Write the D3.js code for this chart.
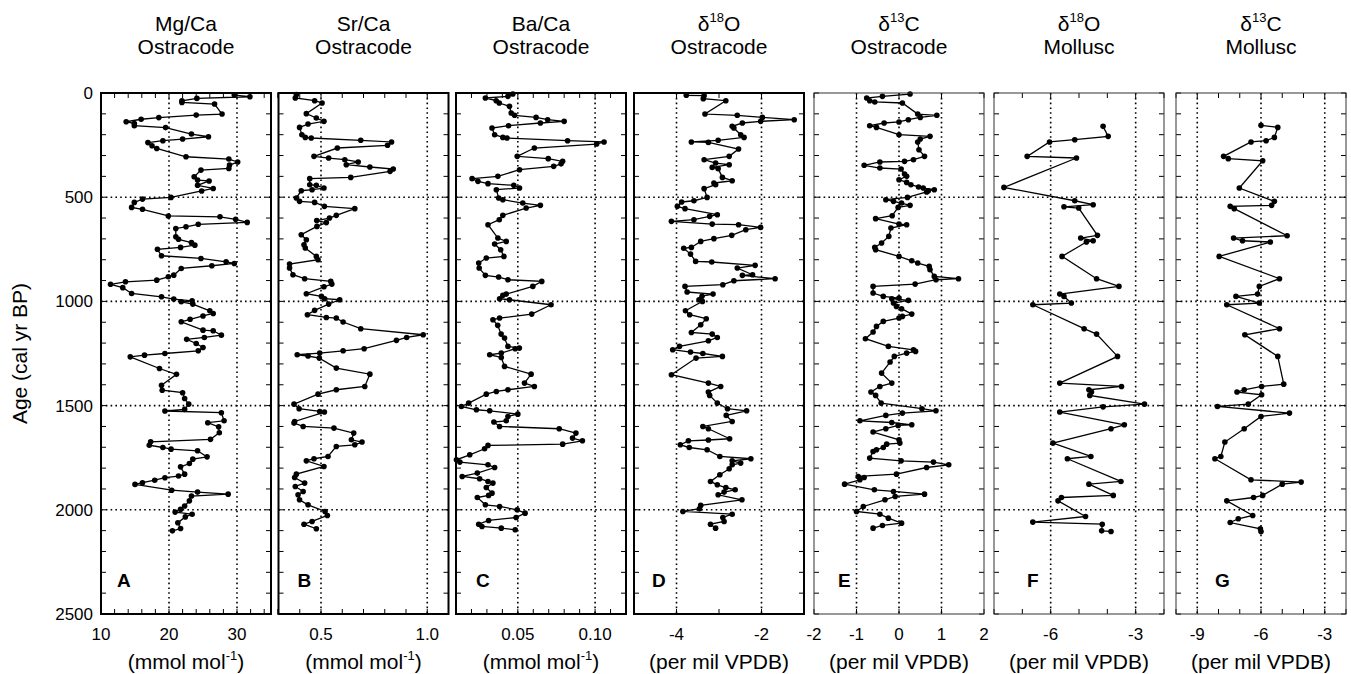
<!DOCTYPE html>
<html>
<head>
<meta charset="utf-8">
<script src="https://cdn.jsdelivr.net/npm/d3@7"></script>
<style>
  body { margin: 0; background: #fff; }
  svg { font-family: "Liberation Sans", Arial, sans-serif; }
</style>
</head>
<body>
<svg width="1351" height="674"></svg>
<script>
// [age (cal yr BP), value]
const mgCa = [[10,29.6],[18,31.9],[26,24.1],[38,21.9],[45,21.9],[53,26.7],[101,27.8],[106,24.0],[118,18.5],[126,15.9],[138,13.7],[146,14.9],[157,14.9],[166,19.5],[197,23.3],[210,25.8],[221,22.0],[229,19.1],[238,16.9],[253,17.5],[266,18.2],[306,22.5],[317,28.8],[331,30.1],[346,28.9],[362,28.8],[370,24.7],[402,23.7],[418,24.2],[422,25.9],[443,24.2],[458,26.5],[470,24.8],[501,20.3],[509,16.1],[525,14.9],[549,14.5],[558,16.1],[590,19.9],[594,27.5],[606,29.8],[621,31.5],[630,24.3],[642,22.5],[650,21.0],[690,21.0],[702,21.4],[718,23.3],[730,23.8],[741,21.7],[750,18.3],[781,18.9],[794,24.7],[810,28.4],[818,29.6],[829,26.3],[842,21.8],[874,20.7],[882,19.9],[898,18.2],[906,13.6],[918,11.4],[934,13.2],[962,14.5],[978,18.9],[989,20.7],[997,23.4],[1002,21.8],[1013,23.5],[1045,26.0],[1058,26.5],[1070,25.0],[1086,23.1],[1098,21.8],[1138,25.0],[1141,26.5],[1162,27.7],[1173,25.2],[1182,22.6],[1202,24.0],[1221,25.0],[1237,24.3],[1250,19.4],[1258,16.4],[1266,14.3],[1322,18.6],[1350,21.1],[1402,18.9],[1426,19.0],[1438,22.0],[1466,22.3],[1493,22.9],[1518,22.3],[1526,19.4],[1534,27.7],[1573,28.1],[1582,25.7],[1602,27.3],[1630,27.4],[1662,26.1],[1674,17.3],[1690,17.1],[1701,19.1],[1709,20.3],[1717,24.2],[1746,25.6],[1757,23.5],[1778,23.0],[1794,21.7],[1829,22.3],[1838,21.4],[1846,19.4],[1858,17.9],[1870,16.1],[1878,15.0],[1906,20.4],[1915,24.2],[1925,28.7],[1934,23.3],[1957,23.0],[1982,22.3],[1998,21.7],[2011,20.9],[2021,23.4],[2034,22.4],[2062,21.3],[2090,21.7],[2101,20.5]];

const srCa = [[8,0.384],[24,0.379],[37,0.470],[48,0.505],[99,0.431],[120,0.478],[136,0.514],[149,0.439],[165,0.399],[200,0.410],[213,0.426],[216,0.454],[227,0.687],[235,0.832],[251,0.813],[264,0.577],[304,0.467],[312,0.536],[320,0.612],[331,0.675],[344,0.619],[355,0.730],[365,0.840],[376,0.825],[405,0.640],[411,0.447],[440,0.447],[443,0.478],[456,0.514],[464,0.458],[469,0.407],[504,0.384],[520,0.399],[525,0.470],[544,0.516],[555,0.659],[587,0.572],[600,0.540],[612,0.480],[622,0.525],[640,0.481],[680,0.407],[704,0.431],[728,0.420],[744,0.426],[784,0.478],[800,0.486],[821,0.352],[840,0.352],[872,0.368],[891,0.423],[904,0.546],[917,0.551],[930,0.514],[963,0.431],[976,0.502],[987,0.517],[992,0.588],[1013,0.536],[1043,0.470],[1064,0.436],[1077,0.525],[1080,0.572],[1099,0.604],[1131,0.687],[1160,0.981],[1173,0.903],[1187,0.855],[1227,0.703],[1237,0.604],[1248,0.494],[1256,0.388],[1262,0.439],[1272,0.492],[1320,0.572],[1349,0.730],[1408,0.706],[1424,0.572],[1445,0.486],[1493,0.373],[1515,0.397],[1528,0.494],[1531,0.516],[1576,0.376],[1584,0.373],[1600,0.416],[1608,0.561],[1632,0.654],[1664,0.643],[1675,0.693],[1688,0.659],[1696,0.572],[1744,0.533],[1755,0.467],[1765,0.431],[1792,0.514],[1829,0.384],[1845,0.376],[1872,0.423],[1888,0.379],[1912,0.416],[1928,0.392],[1952,0.399],[1976,0.439],[2008,0.519],[2027,0.530],[2056,0.458],[2069,0.420],[2091,0.478]];

const baCa = [[5,0.0468],[16,0.0436],[24,0.029],[37,0.036],[48,0.038],[64,0.0446],[96,0.0457],[107,0.0479],[117,0.0618],[128,0.0693],[136,0.080],[144,0.0646],[157,0.044],[168,0.0333],[200,0.035],[213,0.0403],[216,0.043],[229,0.0822],[235,0.1058],[245,0.101],[264,0.0607],[304,0.0496],[315,0.0697],[328,0.079],[340,0.078],[352,0.0732],[368,0.0511],[400,0.0371],[411,0.0204],[424,0.0242],[435,0.0307],[443,0.0474],[456,0.0511],[464,0.0361],[504,0.0376],[512,0.0403],[528,0.0532],[539,0.0646],[552,0.0554],[587,0.0403],[608,0.038],[632,0.0307],[696,0.0371],[712,0.0425],[725,0.035],[752,0.0389],[784,0.041],[792,0.0296],[816,0.0247],[840,0.025],[875,0.029],[883,0.0376],[896,0.0436],[904,0.0655],[928,0.0597],[965,0.0425],[971,0.0403],[987,0.0382],[992,0.0446],[1016,0.0715],[1061,0.059],[1080,0.0382],[1088,0.0339],[1115,0.037],[1157,0.0392],[1176,0.0414],[1216,0.0436],[1224,0.051],[1227,0.0483],[1248,0.0393],[1256,0.0318],[1269,0.0393],[1312,0.0414],[1349,0.0586],[1392,0.0543],[1408,0.0607],[1424,0.0436],[1432,0.0361],[1445,0.0296],[1488,0.0182],[1504,0.0135],[1520,0.0232],[1525,0.0318],[1541,0.05],[1552,0.0436],[1573,0.0425],[1579,0.0345],[1600,0.0382],[1611,0.0768],[1632,0.0876],[1656,0.0854],[1669,0.0918],[1685,0.079],[1691,0.0307],[1707,0.0285],[1736,0.0189],[1760,0.0103],[1771,0.0125],[1784,0.0307],[1797,0.035],[1824,0.0238],[1840,0.014],[1851,0.0253],[1864,0.0307],[1872,0.0339],[1893,0.0296],[1920,0.0333],[1931,0.0311],[1941,0.0238],[1976,0.029],[1984,0.0382],[2000,0.0496],[2016,0.0547],[2037,0.0489],[2051,0.0311],[2069,0.0247],[2080,0.0268],[2088,0.0393],[2096,0.0483]];

const d18OOst = [[11,-3.77],[13,-3.35],[27,-3.37],[37,-2.84],[101,-3.33],[107,-2.57],[117,-1.98],[128,-1.23],[136,-2.02],[144,-2.45],[160,-2.69],[168,-2.65],[200,-2.49],[213,-2.41],[227,-3.02],[235,-3.65],[237,-3.25],[269,-2.54],[304,-2.76],[320,-3.35],[336,-3.08],[344,-2.76],[357,-3.16],[363,-3.02],[405,-2.92],[421,-2.69],[432,-3.12],[440,-3.08],[459,-3.35],[501,-3.28],[517,-3.59],[523,-3.88],[544,-3.98],[555,-3.80],[584,-3.04],[592,-3.22],[608,-3.59],[616,-4.12],[629,-3.16],[632,-2.54],[645,-2.02],[656,-2.37],[683,-2.70],[699,-3.12],[712,-3.43],[741,-3.65],[745,-3.83],[773,-3.67],[808,-3.55],[811,-3.17],[827,-2.15],[840,-2.57],[872,-2.21],[875,-2.45],[891,-1.68],[901,-2.65],[920,-2.91],[928,-3.80],[955,-3.75],[965,-3.14],[975,-3.40],[992,-3.47],[1000,-3.39],[1045,-3.79],[1064,-3.69],[1083,-3.30],[1112,-3.43],[1149,-3.65],[1157,-3.16],[1173,-3.04],[1189,-3.25],[1216,-3.93],[1232,-4.09],[1243,-3.67],[1250,-3.38],[1264,-2.92],[1272,-3.54],[1352,-4.12],[1392,-3.25],[1408,-2.96],[1435,-3.25],[1451,-3.22],[1488,-3.04],[1515,-2.80],[1525,-2.35],[1547,-2.83],[1576,-2.69],[1600,-3.38],[1611,-3.25],[1659,-2.75],[1665,-3.25],[1669,-3.72],[1688,-3.91],[1701,-3.70],[1712,-3.28],[1744,-2.98],[1755,-2.25],[1765,-2.69],[1776,-2.49],[1784,-2.69],[1803,-2.76],[1832,-2.98],[1864,-3.20],[1880,-3.04],[1893,-2.84],[1904,-2.62],[1915,-2.88],[1928,-3.02],[1952,-2.46],[1979,-3.43],[1995,-3.46],[2008,-3.85],[2021,-2.69],[2037,-2.91],[2056,-2.88],[2069,-3.20],[2088,-3.08]];

const d13COst = [[5,0.26],[16,-0.39],[24,-0.76],[37,-0.69],[43,-0.57],[48,0.08],[101,0.44],[107,0.89],[117,0.50],[128,0.22],[139,0.0],[144,-0.35],[157,-0.69],[165,-0.53],[200,0.0],[208,0.73],[221,0.50],[235,0.44],[272,0.47],[304,0.60],[320,0.34],[328,0.13],[331,-0.45],[347,-0.82],[360,-0.45],[365,0.05],[389,0.13],[400,0.18],[416,0.0],[429,0.18],[440,0.28],[451,0.46],[456,0.57],[464,0.83],[469,0.69],[475,0.65],[501,0.20],[512,-0.31],[520,-0.13],[528,0.06],[539,0.26],[549,-0.02],[589,-0.16],[603,-0.55],[629,0.0],[632,0.18],[648,-0.19],[688,-0.24],[720,-0.41],[741,-0.57],[752,-0.55],[784,0.0],[805,0.30],[816,0.44],[832,0.71],[848,0.73],[880,0.83],[891,1.40],[896,0.87],[917,0.38],[928,-0.61],[960,-0.61],[976,-0.37],[984,0.0],[987,-0.17],[995,0.22],[1008,-0.13],[1024,-0.06],[1035,0.06],[1061,0.30],[1072,0.08],[1080,0.0],[1096,-0.37],[1120,-0.53],[1147,-0.61],[1179,-0.79],[1216,-0.25],[1232,0.34],[1240,0.39],[1248,0.18],[1264,-0.11],[1291,-0.21],[1344,-0.41],[1392,-0.17],[1408,-0.45],[1435,-0.66],[1451,-0.55],[1488,-0.42],[1515,0.54],[1525,0.87],[1536,0.08],[1547,-0.31],[1573,-0.92],[1581,-0.17],[1592,0.30],[1595,-0.02],[1611,-0.31],[1627,-0.61],[1664,0.0],[1680,0.02],[1685,-0.29],[1701,-0.37],[1712,-0.53],[1720,-0.61],[1752,-0.69],[1765,0.05],[1771,0.81],[1784,1.17],[1797,0.65],[1829,-0.06],[1840,-0.96],[1845,-0.82],[1856,-0.92],[1877,-1.28],[1904,-0.58],[1912,-0.13],[1925,0.60],[1936,-0.09],[1952,-0.33],[1984,-0.84],[2008,-1.00],[2021,-0.45],[2040,-0.25],[2064,0.06],[2075,-0.39],[2088,-0.61]];

const d18OMol = [[160,-4.15],[208,-3.97],[224,-5.15],[235,-6.04],[304,-6.83],[312,-5.09],[453,-7.65],[517,-5.15],[536,-4.50],[546,-5.53],[552,-5.01],[683,-4.35],[696,-4.94],[709,-4.50],[715,-4.74],[784,-5.60],[891,-4.38],[928,-3.59],[965,-5.68],[976,-5.53],[1008,-5.27],[1016,-6.63],[1131,-4.82],[1157,-4.38],[1264,-3.64],[1392,-5.68],[1408,-3.50],[1424,-4.65],[1435,-4.56],[1451,-4.62],[1493,-2.69],[1506,-4.15],[1531,-5.68],[1592,-3.40],[1611,-3.87],[1680,-5.92],[1744,-4.58],[1755,-5.41],[1864,-3.52],[1877,-4.65],[1931,-3.79],[1941,-5.62],[1957,-5.74],[2032,-4.77],[2059,-6.63],[2069,-4.18],[2101,-4.20],[2104,-3.87]];

const d13CMol = [[155,-6.0],[165,-5.21],[213,-5.37],[229,-5.76],[235,-6.47],[304,-7.76],[315,-7.54],[325,-5.92],[456,-7.02],[520,-5.37],[539,-5.50],[544,-7.45],[555,-7.26],[685,-4.77],[696,-7.29],[709,-6.87],[715,-5.56],[784,-7.97],[891,-5.13],[928,-6.08],[965,-6.16],[976,-7.18],[1008,-6.08],[1016,-7.61],[1131,-5.13],[1160,-6.76],[1264,-5.21],[1397,-4.93],[1408,-5.97],[1424,-6.79],[1435,-7.13],[1448,-5.97],[1493,-6.60],[1504,-8.05],[1536,-4.66],[1552,-6.0],[1611,-6.79],[1675,-7.70],[1744,-7.89],[1755,-8.17],[1856,-6.47],[1867,-4.11],[1877,-5.0],[1931,-5.92],[1941,-6.35],[1957,-7.61],[2027,-6.39],[2043,-7.07],[2061,-7.45],[2091,-6.03],[2104,-6.0]];

const series = [mgCa, srCa, baCa, d18OOst, d13COst, d18OMol, d13CMol];
const titleLine1 = ['Mg/Ca', 'Sr/Ca', 'Ba/Ca', 'δ{18}O', 'δ{13}C', 'δ{18}O', 'δ{13}C'];
const titleLine2 = ['Ostracode', 'Ostracode', 'Ostracode', 'Ostracode', 'Ostracode', 'Mollusc', 'Mollusc'];
const unitLabels = ['(mmol mol{-1})', '(mmol mol{-1})', '(mmol mol{-1})', '(per mil VPDB)', '(per mil VPDB)', '(per mil VPDB)', '(per mil VPDB)'];
const panelLetters = ['A', 'B', 'C', 'D', 'E', 'F', 'G'];
const xDomains = [[10, 35], [0.3, 1.1], [0.01, 0.12], [-5, -1], [-2, 2], [-8, -2], [-10, -2]];
const xTickValues = [[10, 20, 30], [0.5, 1.0], [0.05, 0.10], [-4, -2], [-2, -1, 0, 1, 2], [-6, -3], [-9, -6, -3]];
const xTickLabels = [['10', '20', '30'], ['0.5', '1.0'], ['0.05', '0.10'], ['-4', '-2'], ['-2', '-1', '0', '1', '2'], ['-6', '-3'], ['-9', '-6', '-3']];
const xGridValues = [[20, 30], [0.5, 1.0], [0.05, 0.10], [-4, -2], [-1, 0, 1], [-6, -3], [-9, -6, -3]];
const xMinorStep = [2, 0.1, 0.01, 1, 1, 1, 1];
const ageLabels = [0, 500, 1000, 1500, 2000, 2500];
const ageGrid = [500, 1000, 1500, 2000];

const svg = d3.select('svg');
const plotTop = 93, plotBottom = 614, panelW = 170;
const panelLeft = [101, 278.5, 456, 634, 814, 994, 1176];
const letterOffset = [16, 19, 20, 18, 24, 33, 39];
const borderW = [2, 2, 2, 2, 1, 1, 1];

const yScale = d3.scaleLinear().domain([0, 2500]).range([plotTop, plotBottom]);

// text with {superscript} parts
const richText = (sel, str, fs) => {
    const parts = str.split(/(\{[^}]*\})/).filter(s => s.length);
    let raised = false;
    parts.forEach(p => {
        if (p.startsWith('{')) {
            sel.append('tspan').attr('dy', -0.42 * fs).attr('font-size', fs * 0.62).text(p.slice(1, -1));
            raised = true;
        } else {
            sel.append('tspan').attr('dy', raised ? 0.42 * fs : 0).text(p);
            raised = false;
        }
    });
};

const panel = (selection, i) => {
    const left = panelLeft[i];
    const xScale = d3.scaleLinear().domain(xDomains[i]).range([left, left + panelW]);
    const g = selection.append('g').attr('class', 'panel');

    // dotted grid
    g.selectAll('.vgrid').data(xGridValues[i]).enter().append('line')
        .attr('x1', d => xScale(d)).attr('x2', d => xScale(d))
        .attr('y1', plotTop).attr('y2', plotBottom)
        .attr('stroke', '#000').attr('stroke-width', 1.6)
        .attr('stroke-dasharray', '1.6,3.2');
    g.selectAll('.hgrid').data(ageGrid).enter().append('line')
        .attr('x1', left).attr('x2', left + panelW)
        .attr('y1', d => yScale(d)).attr('y2', d => yScale(d))
        .attr('stroke', '#000').attr('stroke-width', 1.6)
        .attr('stroke-dasharray', '1.6,3.2');

    // ticks, inward on all four sides
    const [x0, x1] = xDomains[i];
    const minor = d3.range(Math.round(x0 / xMinorStep[i]), Math.round(x1 / xMinorStep[i]) + 1)
        .map(k => k * xMinorStep[i]);
    const tl = 5;
    minor.forEach(v => {
        const x = xScale(v);
        g.append('line').attr('x1', x).attr('x2', x).attr('y1', plotBottom).attr('y2', plotBottom - tl)
            .attr('stroke', '#000').attr('stroke-width', 1);
        g.append('line').attr('x1', x).attr('x2', x).attr('y1', plotTop).attr('y2', plotTop + tl)
            .attr('stroke', '#000').attr('stroke-width', 1);
    });
    d3.range(0, 2501, 100).forEach(a => {
        const y = yScale(a);
        g.append('line').attr('x1', left).attr('x2', left + tl).attr('y1', y).attr('y2', y)
            .attr('stroke', '#000').attr('stroke-width', 1);
        g.append('line').attr('x1', left + panelW - tl).attr('x2', left + panelW).attr('y1', y).attr('y2', y)
            .attr('stroke', '#000').attr('stroke-width', 1);
    });

    // data
    const data = series[i];
    const line = d3.line().x(d => xScale(d[1])).y(d => yScale(d[0]));
    g.append('path').datum(data)
        .attr('d', line)
        .attr('fill', 'none').attr('stroke', '#000').attr('stroke-width', 1.3);
    g.selectAll('circle').data(data).enter().append('circle')
        .attr('cx', d => xScale(d[1])).attr('cy', d => yScale(d[0]))
        .attr('r', 2.8).attr('fill', '#000');

    // frame
    g.append('rect')
        .attr('x', left).attr('y', plotTop).attr('width', panelW).attr('height', plotBottom - plotTop)
        .attr('fill', 'none').attr('stroke', borderW[i] > 1 ? '#000' : '#333')
        .attr('stroke-width', borderW[i]);

    // x tick labels
    g.selectAll('.xlab').data(xTickValues[i]).enter().append('text')
        .attr('x', d => xScale(d)).attr('y', 640)
        .attr('text-anchor', 'middle').attr('font-size', 17)
        .text((d, k) => xTickLabels[i][k]);

    // unit label
    const u = g.append('text').attr('x', left + panelW / 2).attr('y', 669)
        .attr('text-anchor', 'middle').attr('font-size', 21);
    richText(u, unitLabels[i], 21);

    // title
    const t1 = g.append('text').attr('x', left + panelW / 2).attr('y', 31)
        .attr('text-anchor', 'middle').attr('font-size', 21);
    richText(t1, titleLine1[i], 21);
    g.append('text').attr('x', left + panelW / 2).attr('y', 54)
        .attr('text-anchor', 'middle').attr('font-size', 21)
        .text(titleLine2[i]);

    // panel letter
    g.append('text').attr('x', left + letterOffset[i]).attr('y', 587)
        .attr('font-size', 19).attr('font-weight', 'bold')
        .text(panelLetters[i]);
};

series.forEach((s, i) => svg.call(panel, i));

// age axis labels
svg.selectAll('.ylab').data(ageLabels).enter().append('text')
    .attr('x', 93).attr('y', d => yScale(d) + 6)
    .attr('text-anchor', 'end').attr('font-size', 17)
    .text(d => d);

svg.append('text')
    .attr('transform', `translate(27, ${(plotTop + plotBottom) / 2}) rotate(-90)`)
    .attr('text-anchor', 'middle').attr('font-size', 21)
    .text('Age (cal yr BP)');
</script>
</body>
</html>
